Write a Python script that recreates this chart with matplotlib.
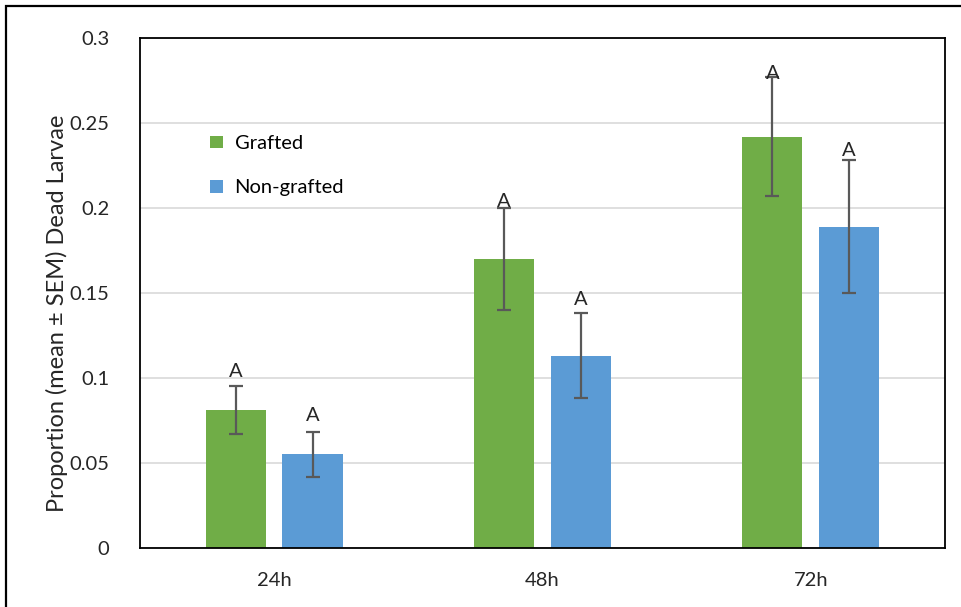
import numpy as np
import matplotlib
matplotlib.use('Agg')
import matplotlib.pyplot as plt
from matplotlib.patches import Rectangle

plt.rcParams['font.family'] = ['Lato', 'DejaVu Sans']

times = ['24h', '48h', '72h']
grafted = [0.081, 0.170, 0.242]
grafted_sem = [0.014, 0.030, 0.035]
nongrafted = [0.055, 0.113, 0.189]
nongrafted_sem = [0.013, 0.025, 0.039]
grafted_letters = ['A', 'A', 'A']
nongrafted_letters = ['A', 'A', 'A']
grafted_letter_y = [0.104, 0.204, 0.279]
nongrafted_letter_y = [0.078, 0.146, 0.234]

green = '#70ad47'
blue = '#5b9bd5'
err_color = '#595959'

fig = plt.figure(figsize=(9.62, 6.07), dpi=100)
ax = fig.add_axes([0.1455, 0.0972, 0.8368, 0.8402])

x = np.arange(len(times))
w = 0.224
off = 0.143

ax.bar(x - off, grafted, w, color=green, label='Grafted', zorder=2)
ax.bar(x + off, nongrafted, w, color=blue, label='Non-grafted', zorder=2)
ax.errorbar(x - off, grafted, yerr=grafted_sem, fmt='none', ecolor=err_color,
            elinewidth=1.6, capsize=5, capthick=1.6, zorder=3)
ax.errorbar(x + off, nongrafted, yerr=nongrafted_sem, fmt='none', ecolor=err_color,
            elinewidth=1.6, capsize=5, capthick=1.6, zorder=3)

for i in range(len(times)):
    ax.text(x[i] - off, grafted_letter_y[i], grafted_letters[i], ha='center', va='center',
            fontsize=14.5, color='#262626', zorder=4)
    ax.text(x[i] + off, nongrafted_letter_y[i], nongrafted_letters[i], ha='center', va='center',
            fontsize=14.5, color='#262626', zorder=4)

ax.set_xlim(-0.5, 2.5)
ax.set_ylim(0, 0.3)
ax.set_yticks(np.arange(0, 0.301, 0.05))
ax.set_yticklabels(['0', '0.05', '0.1', '0.15', '0.2', '0.25', '0.3'])
ax.set_xticks(x)
ax.set_xticklabels(times)
ax.tick_params(axis='y', length=0, pad=22, labelsize=14.5, labelcolor='#262626')
ax.tick_params(axis='x', length=0, pad=17, labelsize=14.5, labelcolor='#262626')
ax.yaxis.grid(True, color='#d9d9d9', linewidth=1.2, zorder=0)
ax.set_axisbelow(True)
for s in ax.spines.values():
    s.set_color('black')
    s.set_linewidth(1.3)

ax.set_ylabel('Proportion (mean ± SEM) Dead Larvae', fontsize=17, color='#262626')
ax.yaxis.set_label_coords(-0.09, 0.46)

ax.legend(loc='upper left', bbox_to_anchor=(0.065, 0.845), frameon=False, fontsize=14.5,
          handlelength=0.6, handleheight=0.6, handletextpad=0.6, labelspacing=1.35)

# outer frame
fig.patches.append(Rectangle((6 / 962, -0.05), 1.2, (601 / 607) + 0.05, transform=fig.transFigure,
                             fill=False, edgecolor='black', linewidth=1.6))

fig.savefig('out.png', dpi=100)
